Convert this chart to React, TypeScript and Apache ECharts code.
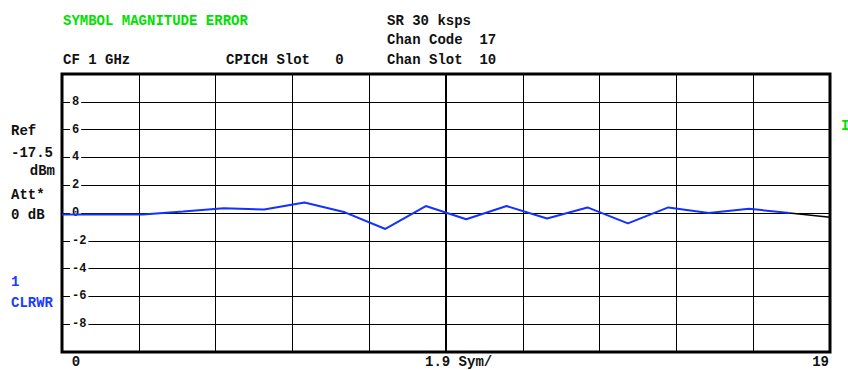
import React, { useEffect, useRef } from "react";
import * as echarts from "echarts";

const symbols = [0, 1, 2, 3, 4, 5, 6, 7, 8, 9, 10, 11, 12, 13, 14, 15, 16, 17, 18, 19];
const magError = [-0.1, -0.1, -0.1, 0.1, 0.35, 0.25, 0.75, 0.05, -1.15, 0.5, -0.45, 0.5, -0.4, 0.4, -0.75, 0.4, 0.0, 0.3, 0.0, -0.3];
const blueEnd = 18;
const xMin = 0;
const xMax = 19;
const xStep = 1.9;
const yMin = -10;
const yMax = 10;
const yStep = 2;
const bottomLabels = ["0", "1.9 Sym/", "19"];

const FONT = "'Liberation Mono', 'Courier New', 'DejaVu Sans Mono', monospace";
const GREEN = "#00e000";
const BLUE = "#1a3cff";
const TRACE = "#1432ff";

function txt(text: string, x: number, y: number, fill = "#111", align = "left") {
  return {
    type: "text",
    x,
    y,
    silent: true,
    style: {
      text,
      fill,
      font: `bold 14px ${FONT}`,
      textAlign: align,
      textVerticalAlign: "middle",
    },
  };
}

export default function App() {
  const ref = useRef<HTMLDivElement>(null);
  useEffect(() => {
    if (!ref.current) return;
    const chart = echarts.init(ref.current, null, { renderer: "svg" });
    const blueData = symbols.map((s, i) => (i <= blueEnd ? [s, magError[i]] : [s, null]));
    const blackData = symbols.map((s, i) => (i >= blueEnd ? [s, magError[i]] : [s, null]));
    chart.setOption({
      animation: false,
      backgroundColor: "#fff",
      grid: {
        left: 62,
        top: 74,
        width: 768,
        height: 278,
        show: true,
        borderColor: "#000",
        borderWidth: 3,
        backgroundColor: "transparent",
      },
      xAxis: {
        type: "value",
        min: xMin,
        max: xMax,
        interval: xStep,
        axisLine: { show: false },
        axisTick: { show: false },
        axisLabel: { show: false },
        splitLine: { show: true, lineStyle: { color: "#000", width: 1 } },
      },
      yAxis: {
        type: "value",
        min: yMin,
        max: yMax,
        interval: yStep,
        axisLine: { show: false },
        axisTick: { show: false },
        axisLabel: {
          inside: true,
          margin: 8,
          color: "#111",
          fontFamily: FONT,
          fontWeight: "bold",
          fontSize: 12,
          backgroundColor: "#fff",
          padding: [0, 2],
          formatter: (v: number) => (Math.abs(v) >= 10 ? "" : String(v)),
        },
        splitLine: { show: true, lineStyle: { color: "#000", width: 1 } },
      },
      series: [
        {
          type: "line",
          data: blueData,
          showSymbol: false,
          connectNulls: false,
          lineStyle: { color: TRACE, width: 2 },
          z: 5,
          markLine: {
            silent: true,
            symbol: "none",
            label: { show: false },
            lineStyle: { color: "#000", width: 2, type: "solid" },
            data: [{ xAxis: (xMin + xMax) / 2 }],
            z: 1,
          },
        },
        {
          type: "line",
          data: blackData,
          showSymbol: false,
          connectNulls: false,
          lineStyle: { color: "#000", width: 1.5 },
          z: 4,
        },
      ],
      graphic: [
        txt("SYMBOL MAGNITUDE ERROR", 63, 21, GREEN),
        txt("CF 1 GHz", 63, 60),
        txt("CPICH Slot   0", 226, 60),
        txt("SR 30 ksps", 387, 21),
        txt("Chan Code  17", 387, 40),
        txt("Chan Slot  10", 387, 60),
        txt("Ref", 11, 131),
        txt("-17.5", 11, 153),
        txt("dBm", 55, 171, "#111", "right"),
        txt("Att*", 11, 195),
        txt("0 dB", 11, 215),
        txt("1", 11, 282, BLUE),
        txt("CLRWR", 11, 303, BLUE),
        txt(bottomLabels[0], 76, 362, "#111", "center"),
        txt(bottomLabels[1], 425, 362),
        txt(bottomLabels[2], 829, 362, "#111", "right"),
        txt("I", 841, 126, GREEN),
      ],
    });
    return () => chart.dispose();
  }, []);
  return (
    <div
      ref={ref}
      style={{ position: "fixed", left: 0, top: 0, width: 848, height: 370 }}
    />
  );
}
